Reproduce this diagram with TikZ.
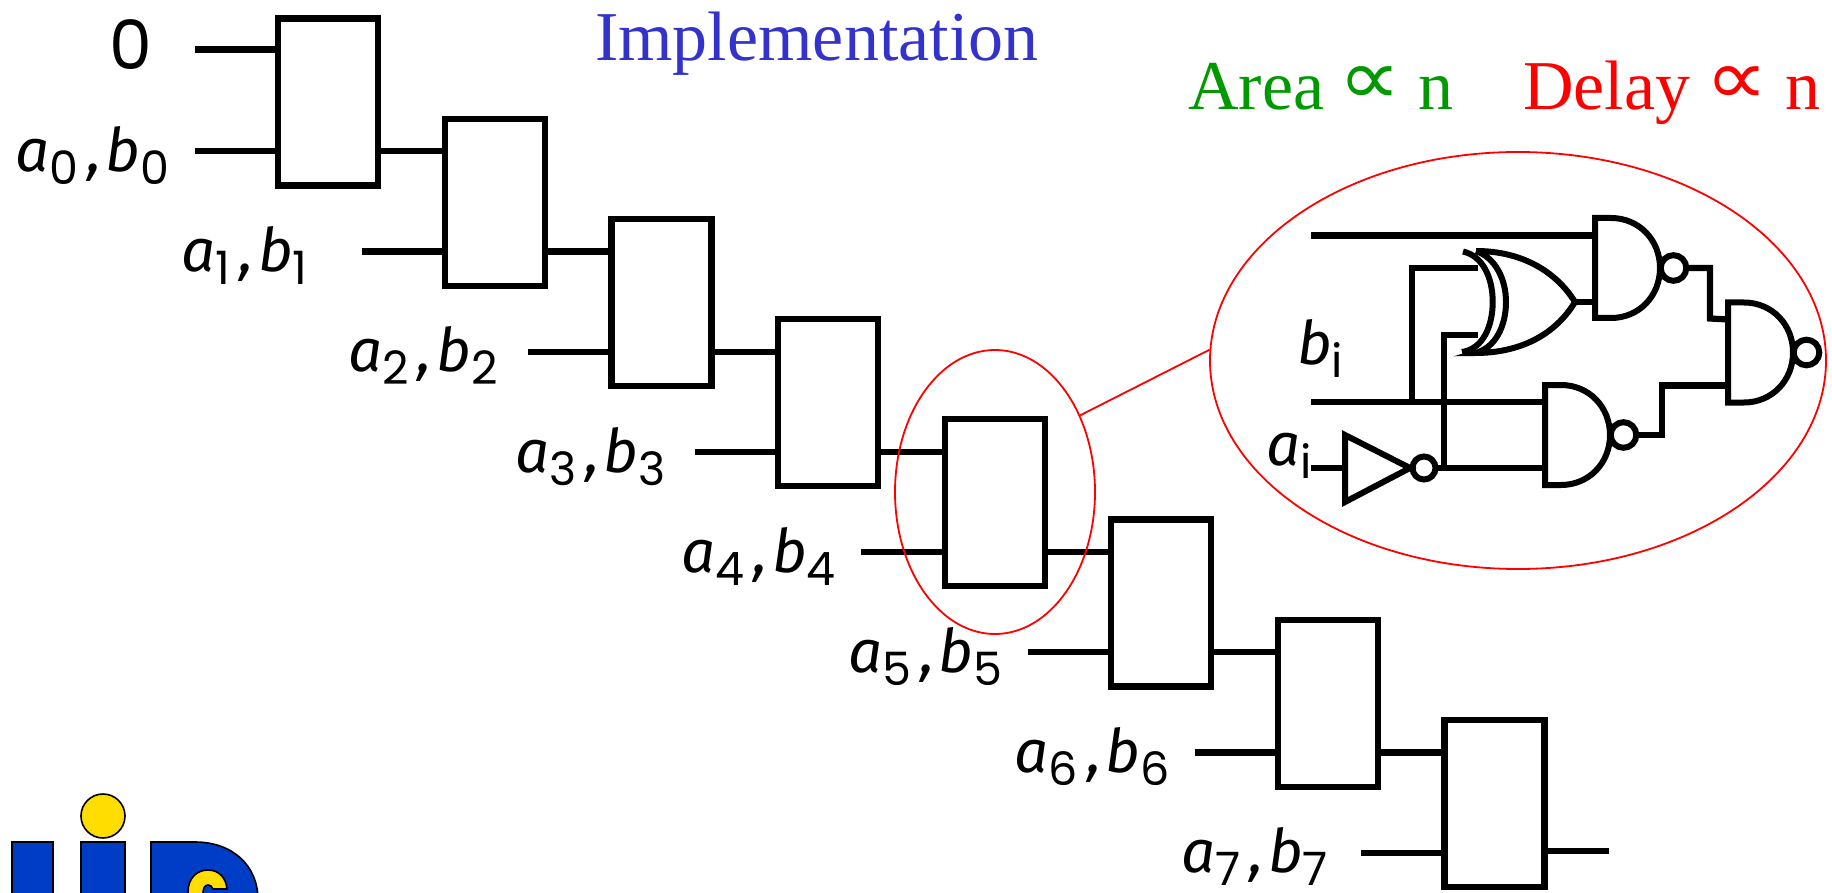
\documentclass[tikz,border=0pt]{standalone}
\usepackage{fontspec}
\setmainfont{Liberation Serif}
\newfontfamily\hand{Fira Sans Italic}
\newfontfamily\handdig{Poppins}
\newfontfamily\symf{DejaVu Sans}
\usetikzlibrary{shapes.geometric}
\definecolor{titleblue}{RGB}{51,51,204}
\definecolor{areagreen}{RGB}{0,153,0}
\definecolor{logoblue}{RGB}{0,61,199}
\definecolor{logoyellow}{RGB}{255,221,0}
\newcommand{\subdig}[1]{\raisebox{-13pt}{\handdig\fontsize{46}{46}\selectfont #1}}
\newcommand{\handlab}[1]{{\hand\fontsize{60}{60}\selectfont a\subdig{#1}\hspace{9pt},\hspace{4pt}b\subdig{#1}}}
\newcommand{\handone}[2]{{\hand\fontsize{60}{60}\selectfont #1\subdig{#2}}}
\newcommand{\propsym}{\raisebox{5pt}{\scalebox{0.88}[0.78]{\symf\fontsize{100}{100}\selectfont ∝}}}
\tikzset{
  cell/.style={draw=black,line width=6.2pt,fill=white,rectangle,minimum width=100pt,minimum height=167pt,inner sep=0pt},
  wire/.style={draw=black,line width=6.2pt},
  gateline/.style={draw=black,line width=6pt,line join=miter},
  lab/.style={inner sep=0pt,anchor=base west,text=black},
  bigtxt/.style={inner sep=0pt,anchor=base west,font=\fontsize{70}{70}\selectfont},
  redring/.style={draw=red,line width=1.8pt,ellipse,inner sep=0pt},
  logopart/.style={draw=black,line width=1.6pt},
  nandg/.pic={
    \draw[gateline] (16,-50) .. controls (44,-50) and (65,-28) .. (65,0) .. controls (65,28) and (44,50) .. (16,50) -- (0,50) -- (0,-50) -- cycle;
    \draw[gateline] (78.5,0) circle (12.8);
    \coordinate (-a) at (0,-33);
    \coordinate (-b) at (0,33);
    \coordinate (-o) at (91.3,0);
  }
}
\begin{document}
\begin{tikzpicture}[x=1pt,y=-1pt]
\useasboundingbox (0,0) rectangle (1832,893);
% logo
\begin{scope}
\clip (0,0) rectangle (1832,893);
\filldraw[logopart,fill=logoblue] (12,842) rectangle (53,910);
\filldraw[logopart,fill=logoblue] (81,842) rectangle (125,910);
\filldraw[logopart,fill=logoyellow] (103,816) circle (22);
\filldraw[logopart,fill=logoblue] (151,910) -- (151,842) -- (195,842) .. controls (232,842) and (258,865) .. (258,900) -- (258,910) -- cycle;
\filldraw[logopart,fill=logoyellow] (188,910) -- (188,892) .. controls (188,878) and (197,870) .. (208,870) .. controls (219,870) and (226,878) .. (227,889) -- (213,889) .. controls (212,886) and (210,885) .. (208,885) .. controls (205,885) and (203,888) .. (203,893) -- (203,910) -- cycle;
\end{scope}
% cells
\foreach \k [evaluate=\k as \cx using {328.3+166.6*\k}, evaluate=\k as \cy using {102+100.2*\k}, evaluate=\k as \sx using {195+166.6*\k}, evaluate=\k as \sy using {151.3+100.2*\k}, evaluate=\k as \lx using {15+166.6*\k}, evaluate=\k as \ly using {172+100*\k}] in {0,...,7}{
  \node[cell] (b\k) at (\cx,\cy) {};
  \coordinate (s\k) at (\sx,\sy);
  \draw[wire] (s\k) -- (b\k.west |- s\k);
  \node[lab] (l\k) at (\lx,\ly) {\handlab{\k}};
}
\coordinate (top) at (195,49.5);
\coordinate (end) at (1609,851);
\draw[wire] (top) -- (b0.west |- top);
\node[inner sep=0pt,anchor=base west] (zero) at (109,70) {\handdig\fontsize{68}{68}\selectfont 0};
\foreach \k [remember=\k as \p (initially 0)] in {1,...,7}{
  \draw[wire] (b\p.east |- s\p) -- (b\k.west |- s\p);
}
\draw[wire] (b7.east |- end) -- (end);
% titles
\node[bigtxt,text=titleblue] (title) at (595,61) {Implementation};
\node[bigtxt,text=areagreen] (area) at (1188,110) {Area\hspace{14pt}\propsym\hspace{17pt}n};
\node[bigtxt,text=red] (delay) at (1523,110) {Delay\hspace{15pt}\propsym\hspace{17pt}n};
% detail
\pic (n1) at (1595,268) {nandg};
\pic (n2) at (1545,435) {nandg};
\pic (n3) at (1728,352.5) {nandg};
\coordinate (ctop) at (1311,235.5);
\coordinate (bin) at (1311,402);
\coordinate (ain) at (1311,468);
\coordinate (xa) at (1478,268);
\coordinate (xb) at (1478,335);
\coordinate (xo) at (1575,302);
\coordinate (tl) at (1345,468);
\draw[wire] (ctop) -- (ctop -| n1-a);
\draw[wire] (bin) -- (n2-a);
% xor
\draw[gateline] (1463,251.5) .. controls (1483,256) and (1492.7,278) .. (1492.7,302) .. controls (1492.7,326) and (1483,349) .. (1462,352);
\draw[gateline] (1476,251) .. controls (1496,258) and (1506,280) .. (1506,302) .. controls (1506,325) and (1496,348) .. (1475,353) .. controls (1520,353) and (1555,335) .. (xo) .. controls (1555,270) and (1520,251) .. (1476,251);
\draw[wire] (xo) -- (xo -| n1-b);
\draw[wire] (1412,402) -- (1412,268) -- (xa);
\draw[wire] (1444,468) -- (1444,335) -- (xb);
% inverter
\draw[gateline] (1345,435) -- (1410,468) -- (1345,502) -- cycle;
\draw[gateline] (1424,468) circle (11.5);
\coordinate (invo) at (1435.5,468);
\draw[wire] (ain) -- (tl);
\draw[wire] (invo) -- (n2-b);
\draw[wire] (n1-o) -- (1710,268) -- (1710,318.5) -- (n3-a);
\draw[wire] (n2-o) -- (1662,435) -- (1662,385.5) -- (n3-b);
\node[lab] (bi) at (1297,365) {\handone{b}{i}};
\node[lab] (ai) at (1266,465) {\handone{a}{i}};
% rings
\node[redring,minimum width=616pt,minimum height=417pt] (big) at (1518,360.5) {};
\node[redring,minimum width=200pt,minimum height=284pt] (small) at (995,492) {};
\draw[red,line width=1.8pt] (small.42) -- (big.178);
\end{tikzpicture}
\end{document}
